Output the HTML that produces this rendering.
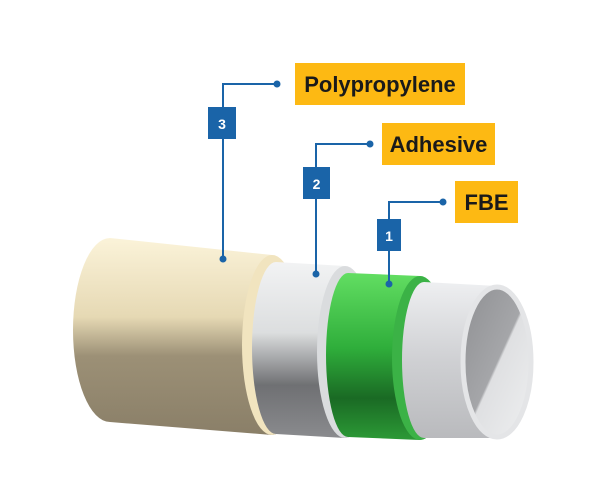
<!DOCTYPE html>
<html><head><style>
html,body{margin:0;padding:0;background:#fff;width:600px;height:500px;overflow:hidden}
</style></head><body>
<svg width="600" height="500" viewBox="0 0 600 500" xmlns="http://www.w3.org/2000/svg">
<defs>
<linearGradient id="gs" x1="0" y1="0" x2="0" y2="1"><stop offset="0" stop-color="#eeeff1"/><stop offset="0.5" stop-color="#cfd0d3"/><stop offset="1" stop-color="#b9babd"/></linearGradient>
<linearGradient id="gg" x1="0" y1="0" x2="0" y2="1"><stop offset="0" stop-color="#62de62"/><stop offset="0.45" stop-color="#2fae3b"/><stop offset="0.75" stop-color="#1a6a24"/><stop offset="1" stop-color="#2c9a36"/></linearGradient>
<linearGradient id="gw" x1="0" y1="0" x2="0" y2="1"><stop offset="0" stop-color="#f2f3f4"/><stop offset="0.4" stop-color="#dcdedf"/><stop offset="0.7" stop-color="#6f7073"/><stop offset="1" stop-color="#8a8b8e"/></linearGradient>
<linearGradient id="gc" x1="0" y1="0" x2="0" y2="1"><stop offset="0" stop-color="#fbf3d9"/><stop offset="0.4" stop-color="#e6d9b4"/><stop offset="0.6" stop-color="#9c9076"/><stop offset="1" stop-color="#8a7f68"/></linearGradient>
<linearGradient id="gi" x1="0" y1="0" x2="1" y2="1"><stop offset="0" stop-color="#8f9093"/><stop offset="0.5" stop-color="#a5a6a9"/><stop offset="0.52" stop-color="#dfe0e2"/><stop offset="1" stop-color="#eeeff0"/></linearGradient>
</defs>
<!-- cream -->
<path d="M110,238 L272,255 A30 90 0 0 1 272,435 L110,422 A37 92 0 0 1 110,238Z" fill="url(#gc)"/>
<ellipse cx="272" cy="345" rx="30" ry="90" fill="#f1e4bf"/>
<!-- white -->
<path d="M276,262 L345,266 A28 86 0 0 1 345,438 L276,434 A24 86 0 0 1 276,262Z" fill="url(#gw)"/>
<ellipse cx="345" cy="352" rx="28" ry="86" fill="#dadcde"/>
<!-- green -->
<path d="M348,273 L420,276 A28 82 0 0 1 420,440 L348,437 A22 82 0 0 1 348,273Z" fill="url(#gg)"/>
<ellipse cx="420" cy="358" rx="28" ry="82" fill="#3bb246"/>
<!-- steel -->
<path d="M424,282 L497,286 A35 76 0 0 1 497,438 L424,438 A22 78 0 0 1 424,282Z" fill="url(#gs)"/>
<ellipse cx="497" cy="362" rx="34" ry="75" fill="url(#gi)" stroke="#e4e5e7" stroke-width="5"/>
<!-- leader lines -->
<g stroke="#1a64a8" stroke-width="2" fill="none">
<path d="M223,259 L223,84 L277,84"/>
<path d="M316,274 L316,144 L370,144"/>
<path d="M389,284 L389,202 L443,202"/>
</g>
<g fill="#1a64a8">
<circle cx="223" cy="259" r="3.5"/><circle cx="277" cy="84" r="3.5"/>
<circle cx="316" cy="274" r="3.5"/><circle cx="370" cy="144" r="3.5"/>
<circle cx="389" cy="284" r="3.5"/><circle cx="443" cy="202" r="3.5"/>
<rect x="208" y="107" width="28" height="32"/>
<rect x="303" y="167" width="27" height="32"/>
<rect x="377" y="219" width="24" height="32"/>
</g>
<g fill="#fff" font-family="Liberation Sans, sans-serif" font-weight="bold" font-size="14" text-anchor="middle">
<text x="222" y="129">3</text><text x="316.5" y="189">2</text><text x="389" y="241">1</text>
</g>
<g fill="#fdb913">
<rect x="295" y="63" width="170" height="42"/>
<rect x="382" y="123" width="113" height="42"/>
<rect x="455" y="181" width="63" height="42"/>
</g>
<g fill="#1a1a1a" font-family="Liberation Sans, sans-serif" font-weight="bold" font-size="22" text-anchor="middle">
<text x="380" y="92">Polypropylene</text>
<text x="438.5" y="152">Adhesive</text>
<text x="486.5" y="210">FBE</text>
</g>
</svg>
</body></html>
